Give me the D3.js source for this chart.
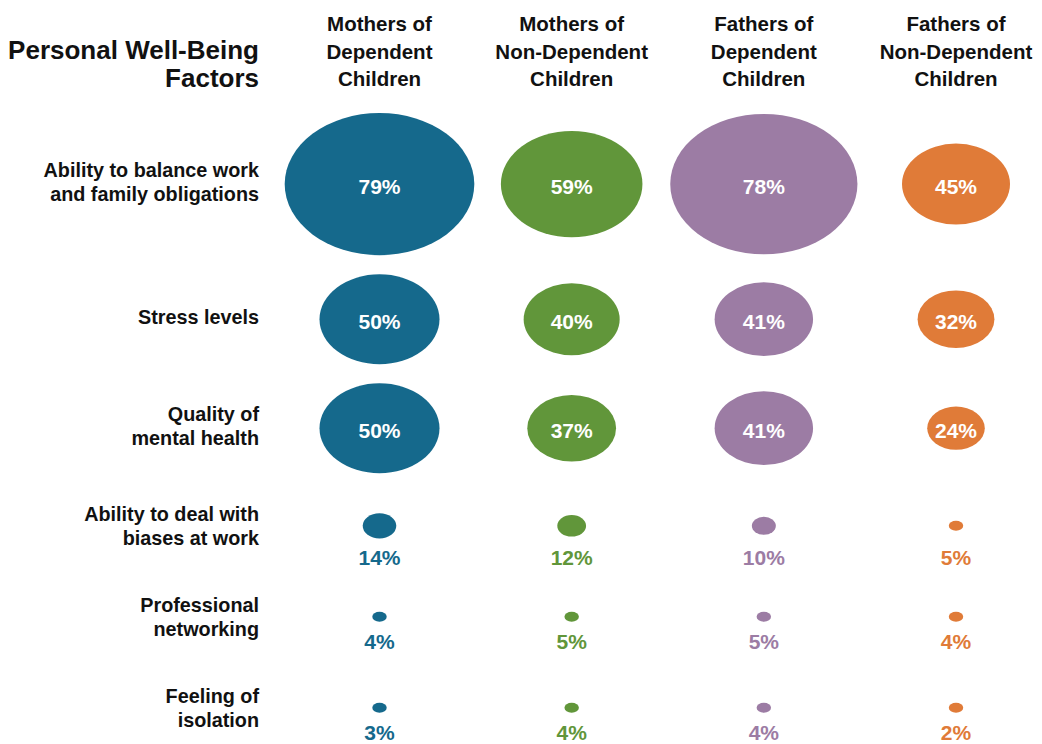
<!DOCTYPE html>
<html>
<head>
<meta charset="utf-8">
<script src="https://cdn.jsdelivr.net/npm/d3@7"></script>
<style>
  html, body { margin: 0; padding: 0; background: #ffffff; }
  svg { display: block; font-family: "Liberation Sans", Arial, sans-serif; }
</style>
</head>
<body>
<svg id="chart" width="1042" height="744"></svg>
<script>
// ---- data ----
const titleLines = ["Personal Well-Being", "Factors"];
const groups = ["Mothers of Dependent Children", "Mothers of Non-Dependent Children",
                "Fathers of Dependent Children", "Fathers of Non-Dependent Children"];
const groupLines = [["Mothers of", "Dependent", "Children"],
                    ["Mothers of", "Non-Dependent", "Children"],
                    ["Fathers of", "Dependent", "Children"],
                    ["Fathers of", "Non-Dependent", "Children"]];
const factors = ["Ability to balance work and family obligations", "Stress levels",
                 "Quality of mental health", "Ability to deal with biases at work",
                 "Professional networking", "Feeling of isolation"];
const factorLines = [["Ability to balance work", "and family obligations"],
                     ["Stress levels"],
                     ["Quality of", "mental health"],
                     ["Ability to deal with", "biases at work"],
                     ["Professional", "networking"],
                     ["Feeling of", "isolation"]];
const mothersDependent    = [79, 50, 50, 14, 4, 3];
const mothersNonDependent = [59, 40, 37, 12, 5, 4];
const fathersDependent    = [78, 41, 41, 10, 5, 4];
const fathersNonDependent = [45, 32, 24, 5, 4, 2];
const seriesValues = [mothersDependent, mothersNonDependent, fathersDependent, fathersNonDependent];
const colors = ["#15698c", "#61963a", "#9c7ca4", "#e07b38"];

// ---- layout ----
const svg = d3.select("#chart");
const labelRight = 259;
const x = d3.scalePoint().domain(groups).range([379.5, 956]);
const rx = v => Math.max(d3.scaleLinear().domain([0, 100]).range([0, 120])(v), 7.2);
const ry = v => Math.max(d3.scaleLinear().domain([0, 100]).range([0, 90])(v), 5);
const insideMin = 20;
const rowMax = factors.map((f, i) => d3.max(seriesValues, s => s[i]));

// row centres, stacked from the size of each row's largest ellipse
const rowY = [];
let cursor = 113;
factors.forEach((f, i) => {
  const m = rowMax[i];
  if (m >= insideMin) {
    const cy = cursor + ry(m);
    rowY.push(cy);
    cursor = cy + ry(m) + 19;
  } else if (i > 0 && rowMax[i - 1] < insideMin) {
    rowY.push(rowY[i - 1] + 91);
  } else {
    rowY.push(cursor + 21 + ry(m));
  }
});
const y = d3.scaleOrdinal().domain(factors).range(rowY);
const rowIndex = new Map(factors.map((f, i) => [f, i]));

// ---- title ----
svg.append("g").selectAll("text").data(titleLines).join("text")
  .attr("x", labelRight)
  .attr("y", (d, i) => 59 + i * 28)
  .attr("text-anchor", "end")
  .attr("font-size", 26)
  .attr("font-weight", "bold")
  .attr("fill", "#111")
  .text(d => d);

// ---- column headers ----
const hdr = svg.append("g").selectAll("text").data(groups).join("text")
  .attr("text-anchor", "middle")
  .attr("font-size", 20.5)
  .attr("font-weight", "bold")
  .attr("fill", "#111");
hdr.each(function(g, gi) {
  d3.select(this).selectAll("tspan").data(groupLines[gi]).join("tspan")
    .attr("x", x(g))
    .attr("y", (d, i) => 31 + i * 27.5)
    .text(d => d);
});

// ---- row labels ----
const rl = svg.append("g").selectAll("text").data(factors).join("text")
  .attr("text-anchor", "end")
  .attr("font-size", 19.8)
  .attr("font-weight", "bold")
  .attr("fill", "#111");
rl.each(function(f, fi) {
  const lines = factorLines[fi];
  const c = y(f) + (rowMax[fi] >= insideMin ? -2 : 0);
  d3.select(this).selectAll("tspan").data(lines).join("tspan")
    .attr("x", labelRight)
    .attr("y", (d, i) => c + 7 + (i - (lines.length - 1) / 2) * 24)
    .text(d => d);
});

// ---- bubbles ----
const cells = [];
groups.forEach((g, gi) => factors.forEach((f, fi) => {
  cells.push({ g, f, v: seriesValues[gi][fi], color: colors[gi] });
}));

const cg = svg.append("g").selectAll("g").data(cells).join("g");
cg.append("ellipse")
  .attr("cx", d => x(d.g))
  .attr("cy", d => y(d.f))
  .attr("rx", d => rx(d.v))
  .attr("ry", d => ry(d.v))
  .attr("fill", d => d.color);
cg.append("text")
  .attr("x", d => x(d.g))
  .attr("y", d => d.v >= insideMin ? y(d.f) + 9.5 : y(d.f) + ry(rowMax[rowIndex.get(d.f)]) + 27)
  .attr("text-anchor", "middle")
  .attr("font-size", 21)
  .attr("font-weight", "bold")
  .attr("fill", d => d.v >= insideMin ? "#ffffff" : d.color)
  .text(d => d.v + "%");
</script>
</body>
</html>
